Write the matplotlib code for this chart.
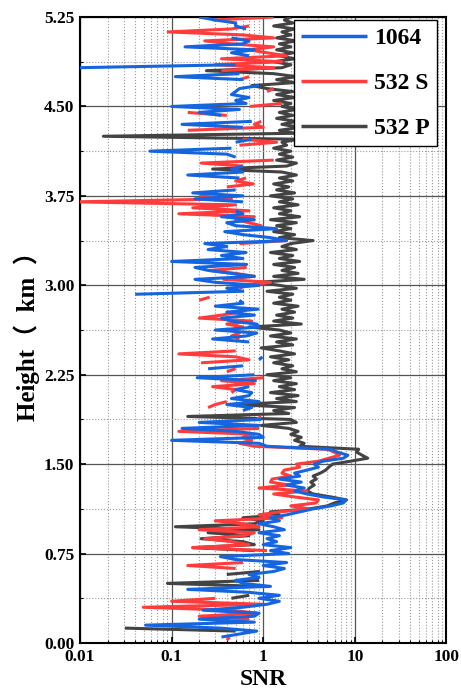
import numpy as np
import matplotlib.pyplot as plt

nan = np.nan

# height grid (km), one sample every 25 m
height = np.round(np.arange(0, 5.2501, 0.025), 3)

# SNR, bottom -> top, 10 samples (0.25 km) per row
snr_1064 = [
    nan, nan, 0.35, 0.55, 0.85, 0.34, 0.052, 0.8, 0.2, 0.8,
    0.9, 0.22, 0.6, 1.1, 1.5, 0.9, 1.5, 0.7, 0.15, 1.2,
    0.6, 0.5, 0.9, 0.7, 1.3, 1.7, 1.0, 1.8, 0.5, 0.34,
    1.9, 1.2, 2.0, 1.0, 1.4, 1.1, 1.5, 0.9, 1.7, 1.3,
    0.9, 1.5, 1.2, 1.8, 2.5, 3.5, 5.5, 7.5, 8.0, 4.5,
    3.0, 2.2, 2.8, 1.8, 2.6, 1.5, 2.5, 2.2, 3.0, 4.0,
    3.6, 4.5, 7.5, 8.4, 6.5, 5.5, 1.1, 0.9, 0.1, 1.0,
    0.9, 0.5, 0.13, 0.9, 0.2, 0.95, nan, nan, 0.6, 0.75,
    0.4, 0.9, 0.45, 0.7, 0.75, 0.5, 0.7, nan, 0.85, 0.19,
    0.8, nan, 0.25, 0.6, nan, 0.9, 0.98, nan, nan, nan,
    nan, 0.7, 0.28, 0.65, 0.85, 0.3, 0.9, 0.85, 0.45, 0.35,
    0.8, 0.4, 0.88, 0.3, 0.6, 0.55, nan, 0.04, 0.6, 0.4,
    0.9, 0.3, 0.18, 0.8, 0.45, 0.25, 0.18, 0.66, 0.1, 0.6,
    0.35, 0.65, 0.25, 0.4, 0.23, 1.8, 1.2, 0.6, 0.38, 1.4,
    0.5, 0.4, 0.8, 0.35, 0.6, 0.5, nan, nan, 0.6, 0.18,
    0.6, 0.17, 0.5, nan, nan, nan, 0.55, 0.15, 0.6, 0.45,
    0.6, nan, nan, 0.5, 0.4, 0.058, 0.45, nan, 0.5, 0.75,
    nan, nan, nan, 0.6, 0.13, 0.75, nan, 0.35, 0.2, 0.55,
    0.1, 0.65, 0.5, 0.7, 0.45, 0.5, 0.55, 0.9, nan, 0.6,
    0.11, 0.55, nan, 0.0095, 0.5, nan, nan, 0.7, 0.45, 0.8,
    0.14, 0.6, 0.7, 0.45, nan, nan, 0.65, 0.5, 0.5, 0.3,
    0.2,
]

snr_532s = [
    nan, 0.4, 0.43, nan, nan, nan, nan, nan, 0.7, 0.2,
    0.85, 0.45, 0.049, 1.0, 0.1, 0.3, nan, nan, nan, nan,
    nan, nan, nan, nan, nan, 0.5, 0.15, 0.6, nan, nan,
    nan, 1.1, 0.17, 0.7, 0.45, 0.23, 0.6, 0.8, 0.2, 0.9,
    0.6, 0.3, 1.6, 0.9, 1.5, 3.2, 2.0, 3.8, 4.0, 2.2,
    1.3, 3.0, 0.9, 1.9, 1.2, 1.25, 2.0, 1.6, 1.7, 2.5,
    2.3, 4.0, 5.2, 6.8, 6.0, 5.0, 0.8, 0.55, 0.75, 0.6,
    0.8, 0.12, 0.9, nan, nan, 0.85, 0.95, nan, nan, 0.25,
    0.3, 0.4, nan, nan, 0.45, 0.5, 0.28, 0.8, 0.35, 1.0,
    nan, 0.4, 0.5, nan, 0.21, 0.7, 0.5, 0.12, 0.5, nan,
    nan, nan, 0.55, 0.45, 0.55, 0.45, 0.6, 0.4, 0.75, 0.2,
    0.35, 0.55, 0.65, nan, nan, 0.2, 0.26, nan, nan, 0.55,
    0.65, 1.2, 0.37, 0.8, 0.5, 0.26, 0.66, nan, nan, nan,
    nan, nan, nan, nan, 0.55, 1.8, nan, nan, nan, 0.75,
    0.95, 0.7, 0.5, 0.8, 0.12, 0.7, 0.17, 0.5, 0.009, 0.45,
    0.2, nan, nan, 0.4, 0.78, 0.5, 0.65, nan, nan, nan,
    0.6, 0.21, 1.3, nan, nan, nan, nan, 0.55, 1.4, 0.6,
    nan, nan, 0.15, 1.0, 0.8, 0.95, nan, 0.4, 0.15, nan,
    0.72, 1.6, nan, 0.85, nan, 1.1, 1.3, nan, nan, 0.55,
    0.7, nan, 0.35, 1.3, 0.3, 1.6, 0.35, 1.8, 1.1, 0.7,
    1.3, 0.45, 0.23, 1.3, 0.6, 0.092, 0.45, 0.7, nan, 0.28,
    1.3,
]

snr_532p = [
    nan, nan, nan, nan, 0.5, 0.031, nan, nan, nan, nan,
    nan, nan, nan, nan, nan, 0.45, 0.7, nan, nan, 0.9,
    0.09, 0.9, nan, 0.4, 0.92, nan, nan, nan, nan, nan,
    nan, 0.8, 0.17, 0.8, 0.6, 0.21, 0.7, 0.25, 0.9, 0.11,
    0.8, 1.0, 0.6, 1.5, 1.2, 3.2, 5.0, 6.0, 8.1, 5.5,
    3.5, 3.0, 3.2, 3.6, 3.3, 3.8, 3.5, 4.2, 4.8, 5.2,
    5.7, 9.0, 13.8, 12.0, 10.5, 11.0, 2.5, 2.8, 2.2, 2.6,
    2.0, 2.4, 1.9, 0.95, 2.3, 2.0, 0.15, 1.9, 1.3, 2.2,
    0.5, 2.3, 1.4, 2.4, 1.2, 2.2, 1.5, 2.3, 1.3, 2.0,
    1.1, 2.3, 1.6, 2.1, 1.3, 1.9, 1.2, 2.2, 1.5, 0.95,
    2.1, 1.4, 2.3, 1.2, 2.0, 1.5, 0.7, 2.6, 1.3, 2.1,
    1.4, 2.2, 1.6, 2.4, 1.3, 2.0, 1.5, 2.1, 1.1, 2.3,
    1.5, 0.85, 2.8, 1.3, 2.4, 1.6, 2.2, 1.3, 2.5, 1.5,
    2.1, 1.2, 2.3, 1.6, 2.0, 3.5, 1.5, 2.2, 1.3, 2.0,
    1.4, 2.3, 1.2, 2.5, 1.5, 2.0, 1.3, 2.4, 1.5, 2.1,
    1.2, 2.2, 1.4, 1.9, 1.3, 2.1, 1.5, 2.3, 1.6, 0.28,
    1.8, 2.3, 1.4, 2.1, 1.5, 2.0, 1.3, 1.8, 1.6, 2.4,
    0.018, 2.2, 1.5, 2.5, 1.6, 2.3, 1.4, 2.1, 1.5, 2.3,
    1.6, 2.0, 1.3, 2.2, 1.4, 2.1, 1.1, 0.75, 2.2, 1.4,
    2.3, 1.3, 0.24, 1.6, 2.0, 1.3, 2.2, 1.5, 2.1, 1.4,
    2.0, 1.5, 2.3, 1.4, 2.0, 1.6, 2.2, 1.3, 2.1, 1.7,
    2.0,
]

labels = ['1064', '532 S', '532 P']
colors = ['#1565e0', '#ff3b3b', '#434343']

y_major = [0.0, 0.75, 1.5, 2.25, 3.0, 3.75, 4.5, 5.25]
y_minor = [0.375, 1.125, 1.875, 2.625, 3.375, 4.125, 4.875]
x_major = [0.01, 0.1, 1, 10, 100]
x_labels = ['0.01', '0.1', '1', '10', '100']

plt.rcParams['font.family'] = ['Liberation Serif', 'Noto Sans CJK SC']
plt.rcParams['font.weight'] = 'bold'

fig = plt.figure(figsize=(4.61, 6.95), dpi=100)
ax = fig.add_axes([0.1735, 0.0748, 0.795, 0.9007])

series = [snr_1064, snr_532s, snr_532p]
lines = []
for s, lab, c, z in zip(series, labels, colors, [5, 4, 3]):
    ln, = ax.plot(np.array(s, dtype=float), height, color=c, lw=2.2,
                  label=lab, zorder=z, solid_capstyle='butt')
    lines.append(ln)

ax.set_xscale('log')
ax.set_xlim(0.01, 100)
ax.set_ylim(0, 5.25)
ax.set_xticks(x_major)
ax.set_xticklabels(x_labels)
ax.set_yticks(y_major)
ax.set_yticklabels(['%.2f' % v for v in y_major])
ax.set_yticks(y_minor, minor=True)

ax.grid(True, which='major', color='#555555', lw=0.9, ls='-', zorder=0)
ax.grid(True, which='minor', color='#9a9a9a', lw=0.8, ls=':', zorder=0)
ax.set_axisbelow(True)

ax.tick_params(which='major', direction='in', length=4, width=1.2, labelsize=12.5, pad=4)
ax.tick_params(which='minor', direction='in', length=2.5, width=0.8)
for sp in ax.spines.values():
    sp.set_linewidth(1.5)

ax.set_xlabel('SNR', fontsize=17, fontweight='bold', labelpad=3)
ax.set_ylabel('Height（  km  ）', fontsize=18, fontweight='bold', labelpad=3)

leg = ax.legend(handles=lines, loc='upper right', fontsize=17, handlelength=2.8,
                borderpad=0.3, labelspacing=1.0, handletextpad=0.3,
                borderaxespad=0, fancybox=False, framealpha=1, edgecolor='black',
                bbox_to_anchor=(0.974, 0.995))
leg.get_frame().set_linewidth(1.0)
for l in leg.get_lines():
    l.set_linewidth(2.5)

fig.savefig('out.png', dpi=100)
